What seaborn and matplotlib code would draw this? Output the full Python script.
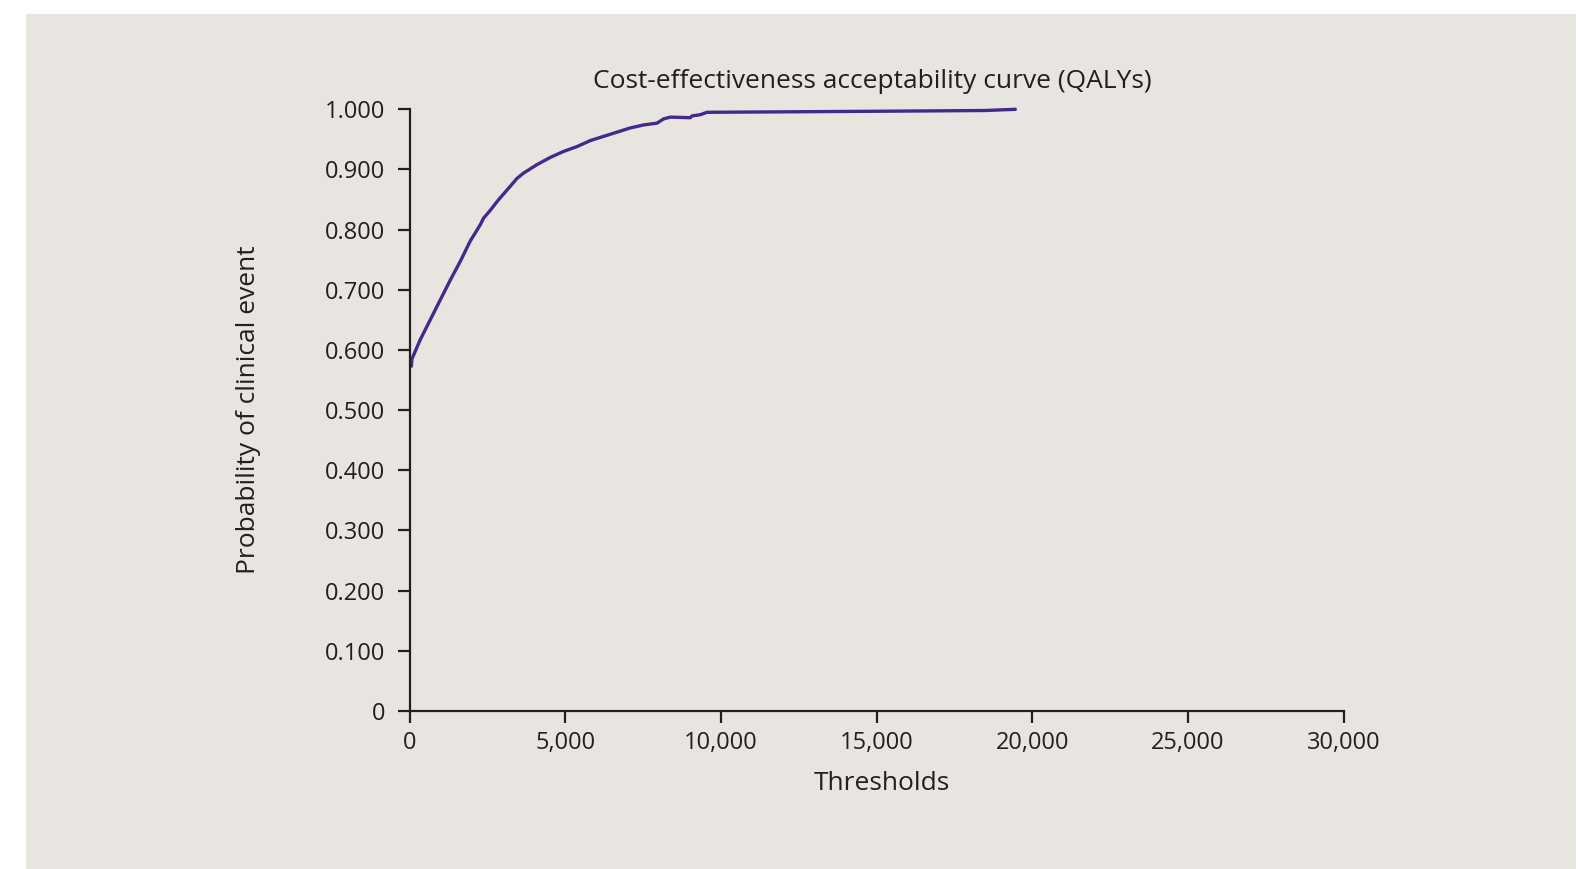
import matplotlib
matplotlib.use("Agg")
import matplotlib.pyplot as plt
import seaborn as sns
import pandas as pd
from matplotlib.patches import Rectangle
from matplotlib.ticker import FuncFormatter

# ---- data ----
thresholds = [60, 77, 344, 665, 986, 1308, 1629, 1950, 2272, 2378, 2593, 2850,
              3235, 3450, 3663, 4093, 4521, 4948, 5379, 5806, 6233, 6664, 7091, 7518,
              7949, 8161, 8376, 9019, 9074, 9340, 9555, 15766, 18500, 19460]
probability = [0.573, 0.585, 0.617, 0.650, 0.683, 0.716, 0.747, 0.781, 0.808, 0.819,
               0.832, 0.849, 0.872, 0.885, 0.894, 0.908, 0.920, 0.930, 0.938, 0.948, 0.955,
               0.962, 0.969, 0.974, 0.977, 0.984, 0.987, 0.986, 0.989, 0.991, 0.995,
               0.997, 0.998, 1.000]
x_ticks = [0, 5000, 10000, 15000, 20000, 25000, 30000]
y_ticks = [0, 0.1, 0.2, 0.3, 0.4, 0.5, 0.6, 0.7, 0.8, 0.9, 1.0]

title = "Cost-effectiveness acceptability curve (QALYs)"
x_label = "Thresholds"
y_label = "Probability of clinical event"

df = pd.DataFrame({"threshold": thresholds, "prob": probability})

sns.set_theme(style="ticks")
plt.rcParams["font.family"] = ["Open Sans", "DejaVu Sans"]

TEXT = "#231f20"
BG = "#e8e4df"
LINE = "#46288c"

fig = plt.figure(figsize=(15.87, 8.69), dpi=100, facecolor="white")
fig.patches.append(Rectangle((26 / 1587, 0), (1576 - 26) / 1587, 1 - 14 / 869,
                             transform=fig.transFigure, facecolor=BG,
                             edgecolor="none", zorder=-10))
ax = fig.add_axes([409.5 / 1587, 1 - 711 / 869, (1343.5 - 409.5) / 1587, (711 - 109.3) / 869])
ax.set_facecolor("none")
ax.set_zorder(5)

sns.lineplot(data=df, x="threshold", y="prob", ax=ax, color=LINE, linewidth=2.4,
             clip_on=False)

ax.set_xlim(0, 30000)
ax.set_ylim(0, 1.0)
ax.set_xticks(x_ticks)
ax.set_yticks(y_ticks)
ax.xaxis.set_major_formatter(FuncFormatter(lambda v, p: "0" if v == 0 else f"{int(v):,}"))
ax.yaxis.set_major_formatter(FuncFormatter(lambda v, p: "0" if v == 0 else f"{v:.3f}"))

for s in ["top", "right"]:
    ax.spines[s].set_visible(False)
for s in ["left", "bottom"]:
    ax.spines[s].set_color(TEXT)
    ax.spines[s].set_linewidth(1.6)

ax.tick_params(axis="both", direction="out", length=8.6, width=1.6, color=TEXT,
               labelcolor=TEXT, labelsize=17)
ax.tick_params(axis="y", pad=9)
ax.tick_params(axis="x", pad=6)

ax.set_title(title, fontsize=19, color=TEXT, pad=15, x=0.495)
ax.set_xlabel(x_label, fontsize=19, color=TEXT)
ax.xaxis.set_label_coords(0.506, -0.100)
ax.set_ylabel(y_label, fontsize=19, color=TEXT, labelpad=46)

fig.savefig("out.png", dpi=100, facecolor="white")
